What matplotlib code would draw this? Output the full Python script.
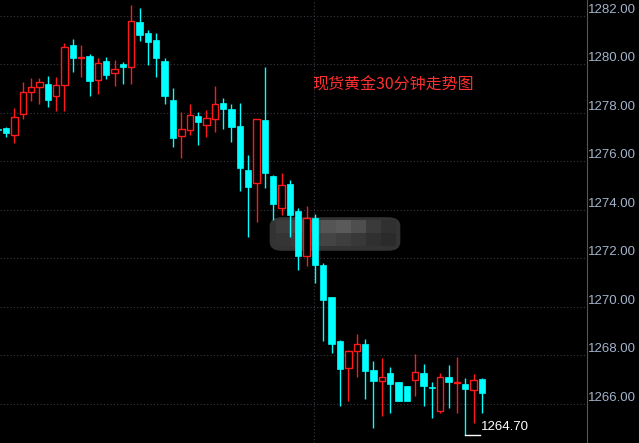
import matplotlib
matplotlib.use("Agg")
import matplotlib.pyplot as plt
from matplotlib.patches import FancyBboxPatch, Rectangle
import numpy as np

# 30 minute candles (first one is cut by the left edge)
opens = [1277.34, 1277.37, 1277.09, 1277.95, 1278.86, 1279.07, 1279.19, 1278.70, 1279.15, 1280.80,
         1280.27, 1280.35, 1279.36, 1280.14, 1279.65, 1280.02, 1279.89, 1281.75, 1281.30, 1281.01,
         1280.14, 1278.53, 1277.04, 1277.29, 1277.87, 1277.50, 1277.75, 1278.41, 1278.16, 1277.46,
         1275.64, 1275.10, 1277.70, 1275.39, 1274.07, 1275.06, 1273.95, 1272.09, 1273.66, 1271.72,
         1270.40, 1268.58, 1267.46, 1268.17, 1268.46, 1267.38, 1266.93, 1267.26, 1266.89, 1266.72,
         1266.97, 1267.26, 1266.70, 1265.69, 1267.09, 1266.83, 1266.81, 1266.56, 1267.01]
closes = [1277.30, 1277.17, 1277.83, 1278.86, 1279.07, 1279.27, 1278.53, 1279.15, 1280.72, 1280.27,
          1280.31, 1279.32, 1280.06, 1279.56, 1279.81, 1279.89, 1281.79, 1281.21, 1280.93, 1280.27,
          1278.70, 1276.96, 1277.33, 1277.91, 1277.62, 1277.79, 1278.37, 1278.16, 1277.42, 1275.72,
          1274.94, 1277.75, 1275.52, 1274.24, 1275.02, 1273.78, 1272.09, 1273.66, 1271.72, 1270.27,
          1268.46, 1267.42, 1268.17, 1268.46, 1267.34, 1266.93, 1267.09, 1266.81, 1266.10, 1266.10,
          1267.30, 1266.72, 1266.66, 1267.09, 1266.89, 1266.87, 1266.60, 1266.97, 1266.43]
highs = [1277.40, 1277.42, 1278.20, 1279.27, 1279.44, 1279.44, 1279.52, 1279.48, 1280.88, 1281.05,
         1280.80, 1280.43, 1280.27, 1280.31, 1280.18, 1280.10, 1282.45, 1282.33, 1281.42, 1281.30,
         1280.27, 1279.03, 1278.04, 1278.37, 1278.04, 1278.12, 1279.11, 1278.61, 1278.37, 1278.41,
         1276.26, 1277.75, 1279.89, 1275.43, 1275.52, 1275.23, 1274.07, 1274.15, 1273.82, 1271.80,
         1270.40, 1268.62, 1268.21, 1268.87, 1268.66, 1267.75, 1267.88, 1267.51, 1266.89, 1266.72,
         1268.04, 1267.63, 1266.89, 1267.26, 1267.59, 1267.92, 1267.05, 1267.22, 1267.05]
lows = [1277.20, 1277.00, 1276.76, 1277.75, 1278.49, 1278.37, 1278.24, 1278.08, 1278.08, 1279.69,
        1279.48, 1278.70, 1278.78, 1279.40, 1279.11, 1279.19, 1279.19, 1280.97, 1279.98, 1279.48,
        1278.37, 1276.59, 1276.14, 1277.09, 1276.67, 1277.00, 1277.21, 1277.33, 1276.80, 1274.77,
        1272.87, 1273.49, 1274.90, 1273.58, 1273.78, 1272.87, 1271.51, 1271.68, 1270.97, 1268.58,
        1268.09, 1265.90, 1266.10, 1267.09, 1266.18, 1264.99, 1265.48, 1265.61, 1266.10, 1266.10,
        1266.31, 1265.90, 1265.40, 1265.61, 1265.81, 1265.61, 1264.70, 1265.19, 1265.61]

price_ticks = [1266, 1268, 1270, 1272, 1274, 1276, 1278, 1280, 1282]
title = "现货黄金30分钟走势图"
low_label = "1264.70"

UP = "#ff1a1a"
DOWN = "#00ffff"

fig = plt.figure(figsize=(6.39, 4.43), dpi=100, facecolor="black")
ax = fig.add_axes([0, 0, 587 / 639, 1])
ax.set_facecolor("black")

x = np.arange(len(opens))
o = np.array(opens)
c = np.array(closes)
up = c >= o
colors = np.where(up, UP, DOWN)

# blurred watermark (mosaic), behind the candles
wm = FancyBboxPatch((272 / 587, 1 - 249 / 443), 126 / 587, 30 / 443,
                    boxstyle="round,pad=0.004,rounding_size=0.02", transform=ax.transAxes,
                    facecolor="#333333", edgecolor="none", zorder=1)
ax.add_patch(wm)
shades = [["#3c3c3c", "#444444", "#4c4c4c", "#555555", "#5a5a5a", "#4e4e4e", "#3a3a3a", "#303030"],
          ["#353535", "#3a3a3a", "#404040", "#444444", "#3e3e3e", "#383838", "#303030", "#2b2b2b"]]
for r, row in enumerate(shades):
    for k, col in enumerate(row):
        ax.add_patch(Rectangle(((276 + k * 15) / 587, 1 - (233 + r * 13) / 443), 15 / 587, 13 / 443,
                               transform=ax.transAxes, facecolor=col, edgecolor="none", zorder=1))

ax.vlines(x, lows, highs, colors=colors, linewidth=1, zorder=2)
bottom = np.minimum(o, c)
height = np.maximum(np.abs(c - o), 0.02)
ax.bar(x[up], height[up], bottom=bottom[up], width=0.76, facecolor="black",
       edgecolor=UP, linewidth=1, zorder=3)
ax.bar(x[~up], height[~up], bottom=bottom[~up], width=0.76, facecolor=DOWN,
       edgecolor=DOWN, linewidth=0.5, zorder=3)

# lowest point marker
i_low = int(np.argmin(lows))
ax.plot([x[i_low], x[i_low] + 1.8], [lows[i_low]] * 2, color="white", lw=1, zorder=4)
ax.text(x[i_low] + 1.9, lows[i_low] + 0.1, low_label, color="white", fontsize=9.5,
        family="Liberation Sans", va="bottom", ha="left", zorder=5)

ax.set_xlim(0.28, 70.58)
ax.set_ylim(1264.37, 1282.66)

ax.set_yticks(price_ticks)
ax.set_yticklabels(["%.2f" % p for p in price_ticks])
ax.yaxis.tick_right()
ax.tick_params(axis="y", length=0, pad=1, labelsize=9.5, labelcolor="#a3b3cb")
plt.setp(ax.get_yticklabels(), va="bottom", family="Liberation Sans")
ax.set_xticks([])
ax.grid(axis="y", color="#3a3a46", linestyle=(0, (1, 2)), linewidth=0.8, zorder=0)
ax.axvline(37.9, color="#3a3a46", linestyle=(0, (1, 2)), linewidth=0.8, zorder=0)

for side in ["left", "top", "bottom"]:
    ax.spines[side].set_visible(False)
ax.spines["right"].set_color("#555560")

ax.text(312 / 587, 1 - 85 / 443, title, transform=ax.transAxes, color="#ff3030",
        fontsize=11.5, family=["Noto Sans CJK SC", "DejaVu Sans"], va="center", ha="left")

fig.savefig("out.png", dpi=100, facecolor="black")
